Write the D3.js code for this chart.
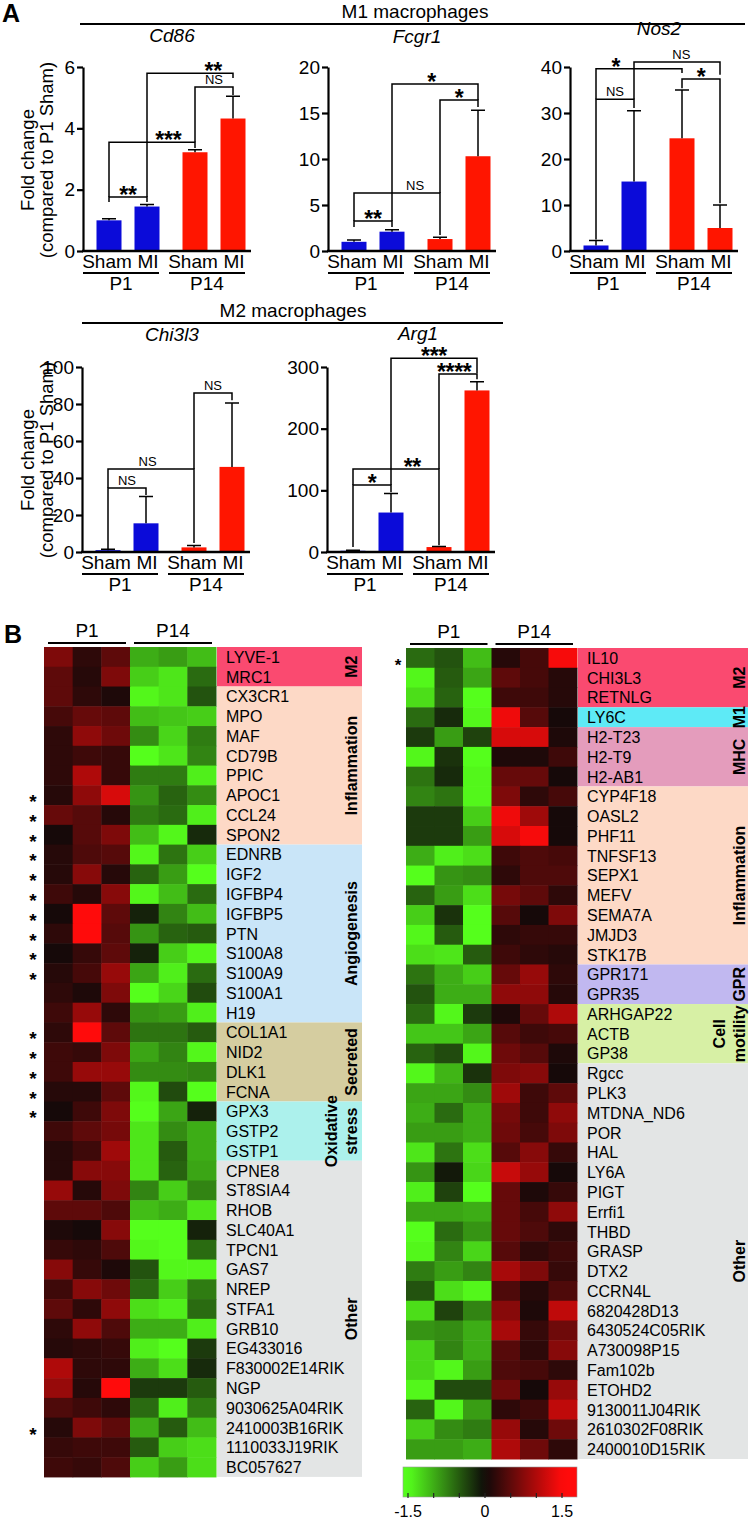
<!DOCTYPE html>
<html><head><meta charset="utf-8">
<script src="https://cdn.jsdelivr.net/npm/d3@7"></script>
<style>
body{margin:0;background:#fff;}
svg{display:block;font-family:"Liberation Sans",Arial,Helvetica,sans-serif;}
</style></head><body>
<svg id="fig" width="750" height="1521"></svg>
<script>
// ---------------- DATA ----------------
const groups = ["P1","P14"];
const conditions = ["Sham","MI"];
const barKeys = [["P1","Sham"],["P1","MI"],["P14","Sham"],["P14","MI"]];

const cd86Mean = [1.0, 1.45, 3.22, 4.32];
const cd86Sem  = [0.05, 0.07, 0.08, 0.73];
const fcgr1Mean = [1.0, 2.1, 1.3, 10.3];
const fcgr1Sem  = [0.2, 0.2, 0.2, 5.0];
const nos2Mean = [1.2, 15.1, 24.5, 5.0];
const nos2Sem  = [1.1, 15.4, 10.5, 5.0];
const chi3l3Mean = [1.0, 15.5, 2.5, 46];
const chi3l3Sem  = [0.5, 14.5, 1.0, 34.5];
const arg1Mean = [2, 64, 8, 262];
const arg1Sem  = [1, 31, 1, 14];

const cd86Ticks = [0, 2, 4, 6];
const fcgr1Ticks = [0, 5, 10, 15, 20];
const nos2Ticks = [0, 10, 20, 30, 40];
const chi3l3Ticks = [0, 20, 40, 60, 80, 100];
const arg1Ticks = [0, 100, 200, 300];

// significance brackets: from bar, to bar, bracket level, leg ends (data units), label, label position
const cd86Brackets = [
  {a:0,b:1,y:1.76,la:1.6,lb:1.6,label:"**",f:0.5},
  {a:0,b:2,y:3.55,la:1.76,lb:3.36,label:"***",f:0.69},
  {a:1,b:3,y:5.8,la:1.76,lb:5.64,label:"**",f:0.77},
  {a:2,b:3,y:5.35,la:3.55,lb:5.09,label:"NS",f:0.5}
];
const fcgr1Brackets = [
  {a:0,b:1,y:3.26,la:2.6,lb:2.6,label:"**",f:0.5},
  {a:0,b:2,y:6.3,la:3.26,lb:1.75,label:"NS",f:0.71},
  {a:1,b:3,y:18.15,la:3.26,lb:16.4,label:"*",f:0.46},
  {a:2,b:3,y:16.4,la:6.3,lb:15.65,label:"*",f:0.5}
];
const nos2Brackets = [
  {a:0,b:1,y:33.0,la:2.5,lb:31.1,label:"NS",f:0.5},
  {a:0,b:2,y:39.6,la:33.0,lb:38.7,label:"*",f:0.23},
  {a:1,b:3,y:41.1,la:33.0,lb:38.3,label:"NS",f:0.55},
  {a:2,b:3,y:37.4,la:35.4,lb:10.4,label:"*",f:0.5}
];
const chi3l3Brackets = [
  {a:0,b:1,y:34.6,la:1.6,lb:30.8,label:"NS",f:0.5},
  {a:0,b:2,y:44.9,la:34.6,lb:4.9,label:"NS",f:0.46},
  {a:2,b:3,y:86,la:44.9,lb:82,label:"NS",f:0.5}
];
const arg1Brackets = [
  {a:0,b:1,y:108.6,la:8,lb:97,label:"*",f:0.5},
  {a:0,b:2,y:134.5,la:108.6,lb:11,label:"**",f:0.69},
  {a:1,b:3,y:314,la:108.6,lb:290,label:"***",f:0.5},
  {a:2,b:3,y:288.5,la:134.5,lb:280,label:"****",f:0.4}
];

// heatmaps
const leftGenes = ["LYVE-1","MRC1","CX3CR1","MPO","MAF","CD79B","PPIC","APOC1","CCL24","SPON2",
 "EDNRB","IGF2","IGFBP4","IGFBP5","PTN","S100A8","S100A9","S100A1","H19",
 "COL1A1","NID2","DLK1","FCNA","GPX3","GSTP2","GSTP1",
 "CPNE8","ST8SIA4","RHOB","SLC40A1","TPCN1","GAS7","NREP","STFA1","GRB10","EG433016",
 "F830002E14RIK","NGP","9030625A04RIK","2410003B16RIK","1110033J19RIK","BC057627"];
const leftValues = [
 [0.7,0.2,0.5,-1.0,-0.9,-1.1],
 [0.5,0.15,0.7,-1.2,-1.35,-0.6],
 [0.5,0.2,0.1,-1.45,-1.35,-0.45],
 [0.35,0.55,0.5,-1.1,-1.15,-1.2],
 [0.2,0.8,0.6,-0.8,-1.25,-0.7],
 [0.2,0.3,0.25,-1.5,-1.35,-0.75],
 [0.2,1.0,0.25,-0.7,-0.7,-1.4],
 [0.15,0.8,1.25,-0.85,-0.55,-0.8],
 [0.55,0.45,0.15,-0.7,-0.6,-1.4],
 [0.05,0.45,0.7,-1.1,-1.45,-0.2],
 [0.15,0.4,0.45,-1.45,-0.65,-1.2],
 [0.15,0.75,0.15,-0.55,-0.9,-1.5],
 [0.3,0.15,0.75,-1.45,-1.1,-0.6],
 [0.05,1.5,0.5,-0.15,-0.75,-1.1],
 [0.2,1.5,0.45,-0.85,-0.55,-0.5],
 [0.05,0.25,0.5,-0.15,-1.2,-1.45],
 [0.15,0.35,0.85,-0.95,-1.4,-0.6],
 [0.2,0.1,0.7,-1.5,-1.25,-0.4],
 [0.3,0.85,0.2,-0.85,-0.9,-1.4],
 [0.2,1.5,0.5,-0.65,-0.65,-0.5],
 [0.3,0.25,0.7,-0.95,-0.75,-1.45],
 [0.3,0.85,0.85,-0.8,-0.8,-0.75],
 [0.15,0.15,0.5,-1.45,-0.4,-1.5],
 [0.05,0.3,0.7,-1.5,-0.95,-0.15],
 [0.3,0.5,0.65,-1.35,-0.8,-1.0],
 [0.15,0.3,0.9,-1.35,-0.5,-1.0],
 [0.15,0.75,0.75,-1.35,-0.55,-0.95],
 [0.85,0.15,0.7,-0.75,-1.2,-0.75],
 [0.5,0.5,0.4,-1.1,-1.0,-1.35],
 [0.1,0.05,0.75,-1.5,-1.5,-0.15],
 [0.25,0.2,0.4,-1.45,-1.5,-0.6],
 [0.75,0.25,0.1,-0.45,-1.45,-1.45],
 [0.3,0.75,0.6,-0.6,-1.2,-0.7],
 [0.5,0.2,0.8,-1.3,-1.4,-0.6],
 [0.2,0.8,0.4,-1.0,-1.0,-1.4],
 [0.15,0.2,0.25,-1.4,-1.5,-0.3],
 [1.0,0.2,0.2,-1.0,-1.3,-0.2],
 [0.85,0.15,1.5,-0.3,-0.3,-0.5],
 [0.4,0.3,0.2,-0.6,-1.4,-0.7],
 [0.15,0.7,0.5,-1.0,-0.5,-1.1],
 [0.25,0.3,0.3,-0.5,-1.2,-1.3],
 [0.3,0.25,0.4,-1.2,-0.9,-1.3]
];
const leftStars = ["APOC1","CCL24","SPON2","EDNRB","IGF2","IGFBP4","IGFBP5","PTN","S100A8","S100A9",
 "COL1A1","NID2","DLK1","FCNA","GPX3","2410003B16RIK"];
const leftCategoryNames = ["M2","Inflammation","Angiogenesis","Secreted","Oxidative stress","Other"];
const leftCategoryCounts = [2,8,9,4,3,16];

const rightGenes = ["IL10","CHI3L3","RETNLG","LY6C","H2-T23","H2-T9","H2-AB1",
 "CYP4F18","OASL2","PHF11","TNFSF13","SEPX1","MEFV","SEMA7A","JMJD3","STK17B",
 "GPR171","GPR35","ARHGAP22","ACTB","GP38",
 "Rgcc","PLK3","MTDNA_ND6","POR","HAL","LY6A","PIGT","Errfi1","THBD","GRASP","DTX2","CCRN4L",
 "6820428D13","6430524C05RIK","A730098P15","Fam102b","ETOHD2","9130011J04RIK","2610302F08RIK","2400010D15RIK"];
const rightValues = [
 [-0.6,-0.45,-1.1,0.15,0.35,1.45],
 [-1.45,-0.5,-0.95,0.5,0.35,0.15],
 [-1.3,-0.55,-1.5,0.3,0.3,0.15],
 [-0.6,-0.2,-1.45,1.4,0.45,0.05],
 [-0.3,-0.9,-0.35,1.25,1.25,0.1],
 [-1.45,-0.25,-1.5,0.1,0.1,0.3],
 [-0.65,-0.2,-1.45,0.55,0.55,0.05],
 [-0.75,-0.65,-1.45,0.7,0.2,0.35],
 [-0.3,-0.3,-1.2,1.4,0.9,0.05],
 [-0.3,-0.3,-0.9,1.25,1.45,0.05],
 [-1.0,-1.4,-1.3,0.3,0.4,0.35],
 [-1.5,-0.85,-0.8,0.2,0.4,0.4],
 [-0.55,-0.9,-1.3,0.65,0.5,0.2],
 [-1.2,-0.25,-1.5,0.45,0.05,0.7],
 [-1.45,-0.5,-1.5,0.2,0.25,0.25],
 [-1.3,-1.35,-0.5,0.3,0.2,0.15],
 [-0.65,-1.0,-1.2,0.55,0.85,0.2],
 [-0.45,-1.0,-1.0,0.8,0.8,0.15],
 [-0.6,-1.45,-0.3,0.1,0.55,1.0],
 [-1.15,-1.15,-0.95,0.45,0.3,0.35],
 [-0.55,-0.4,-1.45,0.6,0.45,0.1],
 [-1.45,-1.05,-0.25,0.7,0.75,0.05],
 [-0.95,-0.95,-0.8,0.9,0.3,0.5],
 [-1.0,-0.6,-1.0,0.65,0.3,0.8],
 [-0.9,-0.9,-1.0,0.6,0.35,0.7],
 [-1.35,-0.65,-1.3,0.45,0.75,0.25],
 [-0.85,-0.1,-1.25,1.15,0.85,0.05],
 [-1.4,-0.35,-1.5,0.55,0.1,0.25],
 [-0.95,-0.95,-1.0,0.55,0.35,0.8],
 [-1.5,-0.6,-0.85,0.55,0.4,0.2],
 [-1.45,-0.75,-1.25,0.45,0.2,0.3],
 [-0.7,-0.9,-0.75,0.95,0.7,0.25],
 [-0.45,-1.3,-1.45,0.4,0.15,0.4],
 [-1.3,-0.35,-0.75,0.75,0.1,1.1],
 [-0.85,-0.8,-1.0,0.95,0.25,0.6],
 [-1.25,-0.75,-1.0,0.45,0.2,0.75],
 [-1.25,-1.45,-0.9,0.4,0.35,0.2],
 [-1.45,-0.4,-0.4,0.6,0.05,0.85],
 [-0.55,-1.45,-0.9,0.2,0.3,1.1],
 [-1.2,-0.8,-0.7,0.85,0.15,0.6],
 [-0.9,-0.9,-1.0,1.0,0.6,0.2]
];
const rightStars = ["IL10"];
const rightCategoryNames = ["M2","M1","MHC","Inflammation","GPR","Cell motility","Other"];
const rightCategoryCounts = [3,1,3,9,2,3,20];

const legendTicks = [-1.5,-1,-0.5,0,0.5,1,1.5];
const legendLabels = [-1.5,0,1.5];

// ---------------- STYLE / LAYOUT ----------------
const svg = d3.select("#fig");
const FONT = '"Liberation Sans",Arial,Helvetica,sans-serif';
const catColor = {
  "M2":"#fa4a70","M1":"#5eeaf6","MHC":"#e49cbc","Inflammation":"#fdd9c6",
  "Angiogenesis":"#c9e5f8","Secreted":"#d5cda0","Oxidative stress":"#acf1ec",
  "GPR":"#c1b8f0","Cell motility":"#d7f0a5","Other":"#e3e5e5"
};
const catLines = {"Oxidative stress":["Oxidative","stress"],"Cell motility":["Cell","motility"]};
const barColor = {"P1":"#0b0bd9","P14":"#ff1500"};

svg.append("text").attr("x",2).attr("y",22).attr("font-size",25).attr("font-weight","bold").text("A");
svg.append("text").attr("x",4).attr("y",643).attr("font-size",25).attr("font-weight","bold").text("B");

function header(txt, x1, x2, lineY, textX){
  svg.append("line").attr("x1",x1).attr("x2",x2).attr("y1",lineY).attr("y2",lineY)
    .attr("stroke","#000").attr("stroke-width",2);
  svg.append("text").attr("x",textX).attr("y",lineY-6).attr("text-anchor","middle")
    .attr("font-size",19).text(txt);
}
header("M1 macrophages", 80, 745, 24, 415);
header("M2 macrophages", 82, 503, 323, 293);

// ---------------- BAR CHARTS ----------------
function barChart(cfg){
  const g = svg.append("g");
  const y = d3.scaleLinear().domain([0, cfg.max]).range([cfg.y0, cfg.y1]);
  const xg = d3.scalePoint().domain(groups).range([cfg.ax+45, cfg.ax+131]);
  const xc = d3.scalePoint().domain(conditions).range([-19, 19]);
  const cx = i => xg(barKeys[i][0]) + xc(barKeys[i][1]);
  const bw = 25;

  g.selectAll("rect.bar").data(cfg.mean).join("rect")
    .attr("x",(d,i)=>cx(i)-bw/2).attr("width",bw)
    .attr("y",d=>y(d)).attr("height",d=>y(0)-y(d))
    .attr("fill",(d,i)=>barColor[barKeys[i][0]]);
  g.selectAll("path.err").data(cfg.mean).join("path")
    .attr("d",(d,i)=>`M${cx(i)},${y(d)}V${y(d+cfg.sem[i])}M${cx(i)-7},${y(d+cfg.sem[i])}H${cx(i)+7}`)
    .attr("stroke","#000").attr("stroke-width",1.5).attr("fill","none");

  const yAxis = d3.axisLeft(y).tickValues(cfg.ticks).tickFormat(d3.format("d"))
    .tickSize(6).tickPadding(2).tickSizeOuter(0);
  const ag = g.append("g").attr("transform",`translate(${cfg.ax},0)`).call(yAxis);
  ag.select(".domain").attr("stroke-width",2.2);
  ag.selectAll(".tick line").attr("stroke-width",2.2);
  ag.selectAll(".tick text").attr("font-size",19).attr("font-family",FONT).attr("fill","#000");
  g.append("line").attr("x1",cfg.ax-1).attr("x2",cfg.ax+168).attr("y1",y(0)).attr("y2",y(0))
    .attr("stroke","#000").attr("stroke-width",2.4);

  barKeys.forEach((k,i)=>{
    g.append("text").attr("x",cx(i) + (i%2 ? 1 : -2)).attr("y",y(0)+17).attr("text-anchor","middle")
      .attr("font-size",19).text(k[1]);
  });
  groups.forEach((gr,j)=>{
    const i0 = j*2, i1 = j*2+1;
    g.append("line").attr("x1",cx(i0)-26).attr("x2",cx(i1)+12)
      .attr("y1",y(0)+22).attr("y2",y(0)+22).attr("stroke","#000").attr("stroke-width",2);
    g.append("text").attr("x",(cx(i0)-26+cx(i1)+12)/2).attr("y",y(0)+39).attr("text-anchor","middle")
      .attr("font-size",19).text(gr);
  });

  g.append("text").attr("x",cfg.tx).attr("y",cfg.ty).attr("text-anchor","middle")
    .attr("font-size",19).attr("font-style","italic").text(cfg.name);

  cfg.brackets.forEach(b=>{
    const xa = cx(b.a), xb = cx(b.b);
    g.append("path").attr("d",`M${xa},${y(b.la)}V${y(b.y)}H${xb}V${y(b.lb)}`)
      .attr("stroke","#000").attr("stroke-width",1.5).attr("fill","none");
    const tx = xa + b.f*(xb-xa);
    if (b.label === "NS") {
      g.append("text").attr("x",tx).attr("y",y(b.y)-3).attr("text-anchor","middle")
        .attr("font-size",13).text("NS");
    } else {
      g.append("text").attr("x",tx).attr("y",y(b.y)+6).attr("text-anchor","middle")
        .attr("font-size",23).attr("font-weight","bold").attr("letter-spacing",-0.3).text(b.label);
    }
  });

  if (cfg.ylab){
    const t = g.append("g").attr("transform",`translate(0,${cfg.labY}) rotate(-90)`);
    t.append("text").attr("x",0).attr("y",34).attr("text-anchor","middle").attr("font-size",18.5).text("Fold change");
    t.append("text").attr("x",0).attr("y",53).attr("text-anchor","middle").attr("font-size",18.5).text("(compared to P1 Sham)");
  }
}

const row1 = {y0:251, y1:67};
const row2 = {y0:552, y1:367};
barChart({name:"Cd86", mean:cd86Mean, sem:cd86Sem, ticks:cd86Ticks, max:6, ax:83, ...row1, tx:172, ty:42, brackets:cd86Brackets, ylab:true, labY:160});
barChart({name:"Fcgr1", mean:fcgr1Mean, sem:fcgr1Sem, ticks:fcgr1Ticks, max:20, ax:328, ...row1, tx:417, ty:43, brackets:fcgr1Brackets});
barChart({name:"Nos2", mean:nos2Mean, sem:nos2Sem, ticks:nos2Ticks, max:40, ax:570, ...row1, tx:659, ty:35, brackets:nos2Brackets});
barChart({name:"Chi3l3", mean:chi3l3Mean, sem:chi3l3Sem, ticks:chi3l3Ticks, max:100, ax:82, ...row2, tx:172, ty:341, brackets:chi3l3Brackets, ylab:true, labY:460});
barChart({name:"Arg1", mean:arg1Mean, sem:arg1Sem, ticks:arg1Ticks, max:300, ax:327, ...row2, tx:418, ty:340, brackets:arg1Brackets});

// ---------------- HEATMAPS ----------------
const color = d3.scaleLinear().domain([-1.5,0,1.5]).range(["#55ff1c","#0e0909","#ff0b0b"]).clamp(true);

function heatmap(cfg){
  const g = svg.append("g");
  const cols = d3.range(6);
  const x = d3.scaleBand().domain(cols).range([cfg.x0, cfg.x1]);
  const y = d3.scaleBand().domain(cfg.genes).range([cfg.y0, cfg.y0 + cfg.genes.length*cfg.rowH]);
  const cells = [];
  cfg.values.forEach((row,i)=>row.forEach((v,j)=>cells.push({gene:cfg.genes[i], col:j, v})));
  g.selectAll("rect.cell").data(cells).join("rect")
    .attr("x",d=>x(d.col)).attr("y",d=>y(d.gene))
    .attr("width",x.bandwidth()+0.5).attr("height",y.bandwidth()+0.5)
    .attr("fill",d=>color(d.v));

  const spans = [];
  let start = 0;
  cfg.catNames.forEach((name,k)=>{
    const n = cfg.catCounts[k];
    const top = y(cfg.genes[start]);
    const bot = y(cfg.genes[start+n-1]) + y.bandwidth();
    spans.push({name, top, bot});
    start += n;
  });
  g.selectAll("rect.box").data(spans).join("rect")
    .attr("x",cfg.bx0).attr("width",cfg.bx1-cfg.bx0)
    .attr("y",d=>d.top).attr("height",d=>d.bot-d.top).attr("fill",d=>catColor[d.name]);
  spans.forEach(s=>{
    const lines = catLines[s.name] || [s.name];
    const cy = (s.top+s.bot)/2;
    lines.forEach((ln,li)=>{
      const bx = cfg.lx - (lines.length-1-li)*20;
      g.append("text").attr("transform",`translate(${bx},${cy}) rotate(-90)`)
        .attr("text-anchor","middle").attr("font-size",16).attr("font-weight","bold").text(ln);
    });
  });

  g.selectAll("text.gene").data(cfg.genes).join("text")
    .attr("x",cfg.bx0+9).attr("y",d=>y(d)+y.bandwidth()/2+6)
    .attr("font-size",16).text(d=>d);

  g.selectAll("text.star").data(cfg.stars).join("text")
    .attr("x",cfg.sx).attr("y",d=>y(d)+y.bandwidth()/2+13).attr("text-anchor","middle")
    .attr("font-size",cfg.starSize).attr("font-weight","bold").text("*");

  groups.forEach((gr,j)=>{
    const xa = x(j*3)+4, xb = x(j*3+2)+x.bandwidth()-4;
    g.append("line").attr("x1",xa).attr("x2",xb).attr("y1",cfg.y0-4).attr("y2",cfg.y0-4)
      .attr("stroke","#000").attr("stroke-width",2);
    g.append("text").attr("x",(xa+xb)/2).attr("y",cfg.y0-10).attr("text-anchor","middle")
      .attr("font-size",19).text(gr);
  });
}

heatmap({genes:leftGenes, values:leftValues, stars:leftStars, catNames:leftCategoryNames, catCounts:leftCategoryCounts,
  x0:44, x1:216, y0:647, rowH:19.76, bx0:217, bx1:362, lx:357, sx:33, starSize:19});
heatmap({genes:rightGenes, values:rightValues, stars:rightStars, catNames:rightCategoryNames, catCounts:rightCategoryCounts,
  x0:406, x1:577, y0:648, rowH:19.78, bx0:578, bx1:748, lx:745, sx:398, starSize:17});

// ---------------- COLOR LEGEND ----------------
const lx = d3.scaleLinear().domain([-1.5,1.5]).range([408,562]);
const defs = svg.append("defs");
const grad = defs.append("linearGradient").attr("id","cbar").attr("x1","0%").attr("x2","100%");
const L0 = 403, L1 = 577;
d3.range(0,1.0001,0.05).forEach(t=>{
  const v = lx.invert(L0 + t*(L1-L0));
  grad.append("stop").attr("offset",(t*100)+"%").attr("stop-color",color(v));
});
svg.append("rect").attr("x",L0).attr("y",1467).attr("width",L1-L0).attr("height",30)
  .attr("fill","url(#cbar)").attr("stroke","#999").attr("stroke-width",0.6);
svg.selectAll("line.lt").data(legendTicks).join("line")
  .attr("x1",d=>lx(d)).attr("x2",d=>lx(d)).attr("y1",1493).attr("y2",1498)
  .attr("stroke","#222").attr("stroke-width",1.2);
svg.selectAll("text.ll").data(legendLabels).join("text")
  .attr("x",d=>lx(d)).attr("y",1517).attr("text-anchor","middle").attr("font-size",16)
  .text(d=>d);
</script>
</body></html>
